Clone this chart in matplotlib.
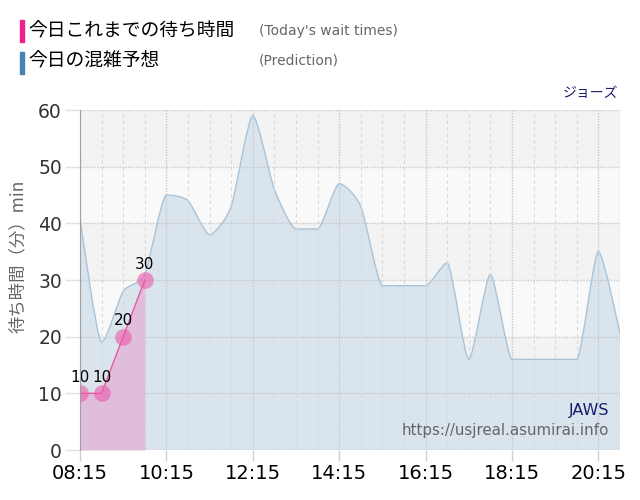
import matplotlib
matplotlib.use("Agg")
import matplotlib.pyplot as plt
from matplotlib.path import Path
from matplotlib.patches import PathPatch, Rectangle
import numpy as np

plt.rcParams['font.family'] = ['Noto Sans CJK JP', 'DejaVu Sans']

# ---- data ----
pred_times = ["08:15", "08:45", "09:15", "09:45", "10:15", "10:45", "11:15", "11:45",
              "12:15", "12:45", "13:15", "13:45", "14:15", "14:45", "15:15", "15:45",
              "16:15", "16:45", "17:15", "17:45", "18:15", "18:45", "19:15", "19:45",
              "20:15", "20:45"]
pred_values = [41, 19, 28, 31, 45, 44, 38, 43, 59, 46, 39, 39, 47, 43, 29, 29,
               29, 33, 16, 31, 16, 16, 16, 16, 35, 20.5]
actual_times = ["08:15", "08:45", "09:15", "09:45"]
actual_values = [10, 10, 20, 30]
xtick_labels = ["08:15", "10:15", "12:15", "14:15", "16:15", "18:15", "20:15"]
yticks = [0, 10, 20, 30, 40, 50, 60]


def to_h(t):
    h, m = t.split(":")
    return int(h) + int(m) / 60.0


px = np.array([to_h(t) for t in pred_times])
py = np.array(pred_values, dtype=float)
ax_t = np.array([to_h(t) for t in actual_times])
ay = np.array(actual_values, dtype=float)


def spline_path(xs, ys, close_base=None, sm=3.5):
    """Spline (Highcharts style) drawn as cubic bezier path."""
    n = len(xs)
    den = sm + 1
    lc = [(xs[i], ys[i]) for i in range(n)]
    rc = [(xs[i], ys[i]) for i in range(n)]
    for i in range(1, n - 1):
        x, y = xs[i], ys[i]
        lx0, ly0 = xs[i - 1], ys[i - 1]
        nx, ny = xs[i + 1], ys[i + 1]
        lcx = (sm * x + lx0) / den
        lcy = (sm * y + ly0) / den
        rcx = (sm * x + nx) / den
        rcy = (sm * y + ny) / den
        if rcx != lcx:
            corr = (rcy - lcy) * (rcx - x) / (rcx - lcx) + y - rcy
            lcy += corr
            rcy += corr
            if lcy > ly0 and lcy > y:
                lcy = max(ly0, y); rcy = 2 * y - lcy
            elif lcy < ly0 and lcy < y:
                lcy = min(ly0, y); rcy = 2 * y - lcy
            if rcy > ny and rcy > y:
                rcy = max(ny, y); lcy = 2 * y - rcy
            elif rcy < ny and rcy < y:
                rcy = min(ny, y); lcy = 2 * y - rcy
        lc[i] = (lcx, lcy)
        rc[i] = (rcx, rcy)
    verts = [(xs[0], ys[0])]
    codes = [Path.MOVETO]
    for i in range(1, n):
        verts += [rc[i - 1], lc[i], (xs[i], ys[i])]
        codes += [Path.CURVE4] * 3
    if close_base is not None:
        verts += [(xs[-1], close_base), (xs[0], close_base), (xs[0], ys[0])]
        codes += [Path.LINETO, Path.LINETO, Path.CLOSEPOLY]
    return Path(verts, codes)


fig = plt.figure(figsize=(6.4, 5.0), dpi=100)
ax = fig.add_axes([80 / 640, 50 / 500, 540 / 640, 340 / 500])
x0, x1 = to_h("08:15"), to_h("20:45")
ax.set_xlim(x0, x1)
ax.set_ylim(0, 60)

# alternating bands (50-60 darker)
for i, (lo, hi) in enumerate([(0, 10), (10, 20), (20, 30), (30, 40), (40, 50), (50, 60)]):
    c = '#f3f3f3' if i % 2 == 1 else '#f9f9f9'
    ax.axhspan(lo, hi, color=c, zorder=0, lw=0)

# prediction area
ax.add_patch(PathPatch(spline_path(px, py, close_base=0), facecolor='#dae4ed',
                       edgecolor='none', zorder=1))
ax.add_patch(PathPatch(spline_path(px, py), facecolor='none', edgecolor='#a9c3d8',
                       lw=1.0, zorder=2))

# grid
minor = np.arange(x0, x1 + 0.01, 0.5)
major = np.array([to_h(t) for t in xtick_labels])
for m in minor:
    if np.min(np.abs(major - m)) < 1e-6:
        continue
    ax.axvline(m, color='#d9d9d9', lw=0.8, ls=(0, (3, 3)), zorder=2.5)
for m in list(major) + [x1]:
    ax.axvline(m, color='#c8c8c8', lw=1, ls=(0, (1, 1)), zorder=2.5)
for yv in yticks[1:]:
    ax.axhline(yv, color='#c8c8c8', lw=1, ls=(0, (1, 1)), zorder=2.5)
ax.axhline(0, color='#d8d8d8', lw=1, zorder=2.5)

# actual area
ax.fill_between(ax_t, ay, 0, color='#dfbddb', lw=0, zorder=3)
ax.plot(ax_t, ay, color='#e8559f', lw=1.0, zorder=4)
ax.plot(ax_t, ay, 'o', ms=12, color='#ee5aaa', alpha=0.6, mec='none', zorder=5)
for t, v in zip(ax_t, ay):
    ax.annotate(f"{int(v)}", (t, v), xytext=(0, 6), textcoords='offset points',
                ha='center', va='bottom', fontsize=11, color='#000000',
                family='DejaVu Sans', zorder=6)

for s in ['top', 'right', 'bottom']:
    ax.spines[s].set_visible(False)
ax.spines['left'].set_color('#a0a0a0')
ax.spines['left'].set_zorder(7)

ax.set_xticks(major)
ax.set_xticklabels(xtick_labels, fontsize=14, color='#000000', family='DejaVu Sans')
ax.tick_params(axis='x', length=8, width=1, color='#d0d0d0', pad=2)
ax.set_yticks(yticks)
ax.set_yticklabels([str(v) for v in yticks], fontsize=13.5, color='#333333',
                   family='DejaVu Sans')
ax.tick_params(axis='y', length=11, width=1, color='#e0e0e0', pad=2)

fig.text(18 / 640, 1 - 256 / 500, "待ち時間（分）min", fontsize=12.5, color='#666666',
         rotation=90, va='center', ha='center')

# legend
fig.patches.append(Rectangle((20 / 640, 1 - 42 / 500), 4 / 640, 22 / 500,
                             transform=fig.transFigure, color='#f0208c'))
fig.patches.append(Rectangle((20 / 640, 1 - 74 / 500), 4 / 640, 22 / 500,
                             transform=fig.transFigure, color='#4682b4'))
fig.text(28 / 640, 1 - 31 / 500, "今日これまでの待ち時間", fontsize=13.5, color='#000000',
         va='center', ha='left')
fig.text(28 / 640, 1 - 61 / 500, "今日の混雑予想", fontsize=13.5, color='#000000',
         va='center', ha='left')
fig.text(259 / 640, 1 - 31 / 500, "(Today's wait times)", fontsize=10, color='#666666',
         va='center', ha='left', family='DejaVu Sans')
fig.text(259 / 640, 1 - 61 / 500, "(Prediction)", fontsize=10, color='#666666',
         va='center', ha='left', family='DejaVu Sans')

fig.text(618 / 640, 1 - 93 / 500, "ジョーズ", fontsize=10, color='#1c1c6c',
         va='center', ha='right')
fig.text(609 / 640, 1 - 410 / 500, "JAWS", fontsize=11.5, color='#1c1c6c',
         va='center', ha='right', family='DejaVu Sans')
fig.text(609 / 640, 1 - 431 / 500, "https://usjreal.asumirai.info", fontsize=10.8,
         color='#666666', va='center', ha='right', family='DejaVu Sans')

fig.savefig("out.png", dpi=100)
